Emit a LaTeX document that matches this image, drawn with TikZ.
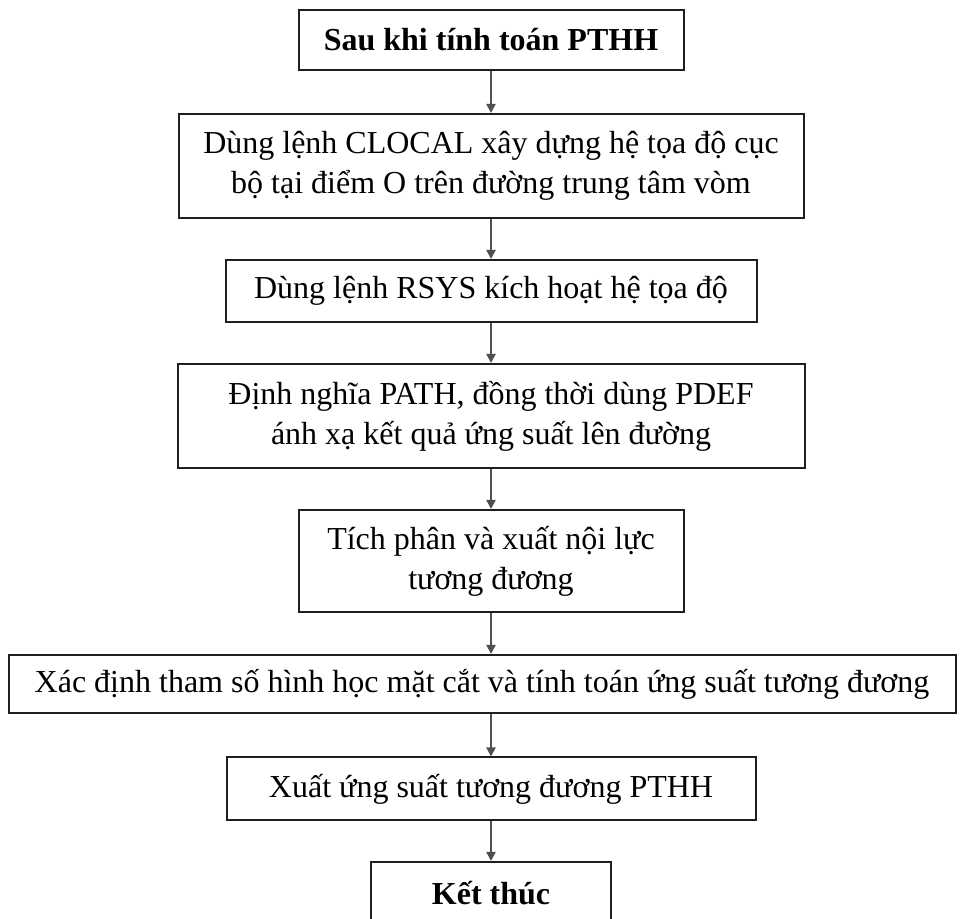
\documentclass[tikz,border=0pt]{standalone}
\usepackage{fontspec}
\setmainfont{Liberation Serif}
\usetikzlibrary{arrows.meta, positioning}
\definecolor{boxline}{HTML}{1F1F1F}
\definecolor{arrowgray}{HTML}{505050}
\tikzset{
  % process boxes -- usage: \node[procbox={width}{height}] ...
  procbox/.style 2 args={rectangle, draw=boxline, line width=1pt, fill=white,
                 inner sep=0pt, align=center,
                 minimum width=#1*0.5pt, minimum height=#2*0.5pt,
                 font=\fontsize{16}{20}\selectfont},
  % start / end boxes
  termbox/.style 2 args={procbox={#1}{#2}, font=\fontsize{16}{20}\selectfont\bfseries},
  % flow arrows
  farrow/.style={-{Triangle[length=4.5pt,width=4.5pt]}, draw=arrowgray,
                 line width=1pt},
}

\begin{document}
\begin{tikzpicture}[x=0.5pt, y=-0.5pt]
\useasboundingbox (0,0) rectangle (960,919);

% ── Start ────────────────────────────────────────────────────────────────────
\node[termbox={385}{60}]  (start) at (491, 40)  {Sau khi tính toán PTHH};

% ── Steps ────────────────────────────────────────────────────────────────────
\node[procbox={625}{104}] (clocal) at (491, 166)
  {Dùng lệnh CLOCAL xây dựng hệ tọa độ cục\\bộ tại điểm O trên đường trung tâm vòm};
\node[procbox={531}{62}]  (rsys)   at (491, 291) {Dùng lệnh RSYS kích hoạt hệ tọa độ};
\node[procbox={627}{104}] (pdef)   at (491, 416)
  {Định nghĩa PATH, đồng thời dùng PDEF\\ánh xạ kết quả ứng suất lên đường};
\node[procbox={385}{102}] (integ)  at (491, 561)
  {Tích phân và xuất nội lực\\tương đương};
\node[procbox={947}{58}]  (geom)   at (482, 684)
  {Xác định tham số hình học mặt cắt và tính toán ứng suất tương đương};
\node[procbox={529}{63}]  (output) at (491, 789) {Xuất ứng suất tương đương PTHH};

% ── End ──────────────────────────────────────────────────────────────────────
\node[termbox={240}{62}]  (finish) at (491, 893) {Kết thúc};

% ── Arrows ───────────────────────────────────────────────────────────────────
\draw[farrow] (start.south)  -- (clocal.north);
\draw[farrow] (clocal.south) -- (rsys.north);
\draw[farrow] (rsys.south)   -- (pdef.north);
\draw[farrow] (pdef.south)   -- (integ.north);
\draw[farrow] (integ.south)  -- (integ.south |- geom.north);
\draw[farrow] (integ.south |- geom.south) -- (output.north);
\draw[farrow] (output.south) -- (finish.north);

\end{tikzpicture}
\end{document}
